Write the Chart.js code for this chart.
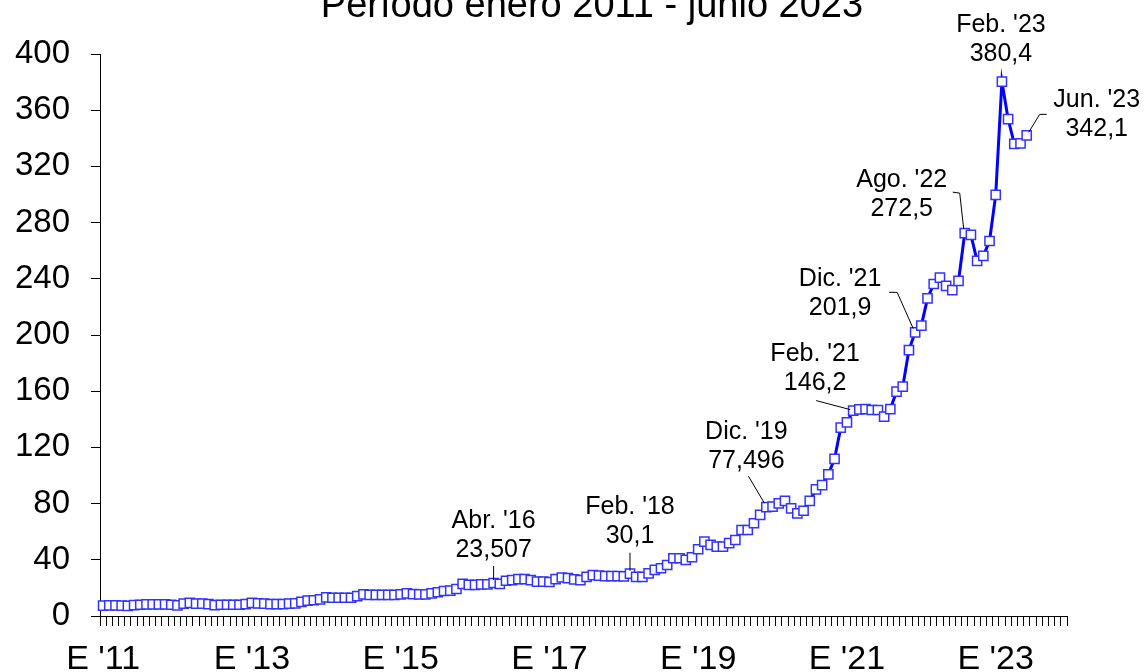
<!DOCTYPE html>
<html>
<head>
<meta charset="utf-8">
<script src="https://cdn.jsdelivr.net/npm/chart.js@4.4.1/dist/chart.umd.min.js"></script>
<style>
    body { margin: 0; background: #fff; }
    canvas { display: block; }
</style>
</head>
<body>
<canvas id="chart" width="1145" height="672"></canvas>
<script>
// Chart data
const titleText = 'Período enero 2011 - junio 2023';
const years = [2011, 2012, 2013, 2014, 2015, 2016, 2017, 2018, 2019, 2020, 2021, 2022, 2023];
const monthNames = ['ene', 'feb', 'mar', 'abr', 'may', 'jun', 'jul', 'ago', 'sep', 'oct', 'nov', 'dic'];
const xTickLabels = ["E '11", "E '13", "E '15", "E '17", "E '19", "E '21", "E '23"];
const yTicks = [0, 40, 80, 120, 160, 200, 240, 280, 320, 360, 400];

// monthly values, enero 2011 - junio 2023
const values = [
    7.4, 7.6, 7.6, 7.4, 7.2, 7.8, 8.0, 8.3, 8.3, 8.3, 8.3, 8.0,
    7.6, 8.8, 9.3, 8.8, 8.8, 8.5, 7.8, 8.0, 8.0, 8.0, 8.0, 8.5,
    9.3, 9.0, 8.8, 8.5, 8.5, 8.5, 8.8, 9.0, 10.0, 10.9, 11.2, 11.9,
    13.3, 13.0, 13.0, 13.0, 13.0, 14.2, 15.4, 15.0, 15.0, 15.0, 15.0, 15.0,
    15.4, 16.1, 15.6, 15.4, 15.4, 16.1, 16.9, 17.8, 18.0, 19.2, 22.8, 22.1,
    22.1, 22.5, 22.5, 23.507, 22.8, 25.1, 25.6, 26.3, 26.3, 25.6, 24.4, 24.4,
    24.2, 26.3, 27.4, 27.0, 26.1, 25.6, 27.9, 29.1, 28.7, 28.4, 28.4, 28.4,
    28.2, 30.1, 27.9, 27.9, 30.4, 32.8, 34.0, 36.3, 41.1, 41.1, 39.9, 41.8,
    47.5, 53.0, 50.6, 49.4, 49.4, 51.8, 54.1, 61.2, 61.2, 66.0, 72.0, 77.496,
    77.8, 80.1, 82.0, 76.6, 73.0, 74.9, 82.0, 90.1, 93.2, 100.8, 111.8, 134.1,
    137.8, 146.2, 147.1, 147.3, 146.6, 146.6, 141.9, 147.3, 159.7, 163.2, 189.3, 201.9,
    206.7, 226.1, 236.3, 240.8, 234.9, 232.0, 238.5, 272.5, 271.2, 252.7, 256.3, 266.9,
    299.7, 380.4, 353.7, 336.0, 336.4, 342.1
];

// annotated points: index into values and label text
const noteIndex = [63, 85, 107, 121, 131, 139, 145, 149];
const noteText = [
    ["Abr. '16", '23,507'],
    ["Feb. '18", '30,1'],
    ["Dic. '19", '77,496'],
    ["Feb. '21", '146,2'],
    ["Dic. '21", '201,9'],
    ["Ago. '22", '272,5'],
    ["Feb. '23", '380,4'],
    ["Jun. '23", '342,1']
];

// label placement relative to the point (px)
const noteLayout = [
    { dx: 0,   dy: -62, leader: [[0, -17], [0, -3]] },
    { dx: 0,   dy: -67, leader: [[0, -21], [0, -3]] },
    { dx: -20, dy: -75, leader: [[-18, -31], [-2, -4]] },
    { dx: -38, dy: -56, leader: [[-37, -10], [-3, -1]] },
    { dx: -75, dy: -53, leader: [[-26, -40], [-18, -40], [-2, -4]] },
    { dx: -63, dy: -53, leader: [[-12, -41], [-5, -40], [-1, -4]] },
    { dx: -1,  dy: -56, leader: [] },
    { dx: 70,  dy: -35, leader: [[20, -21], [13, -21], [2, -3]] }
];

const FONT = 'Arial, "Liberation Sans", sans-serif';

const months = [];
years.forEach(y => monthNames.forEach(m => months.push(m + ' ' + y)));

// Title (cut at the top, as in the picture)
const titlePlugin = {
    id: 'titleText',
    afterDraw(chart) {
        const c = chart.ctx;
        c.save();
        c.font = '38px ' + FONT;
        c.fillStyle = '#000';
        c.textAlign = 'center';
        c.textBaseline = 'alphabetic';
        c.fillText(titleText, 592, 17);
        c.restore();
    }
};

// Point annotations with leader lines
const notesPlugin = {
    id: 'notes',
    afterDatasetsDraw(chart) {
        const c = chart.ctx;
        const xs = chart.scales.x;
        const ys = chart.scales.y;
        c.save();
        c.font = '25px ' + FONT;
        c.fillStyle = '#000';
        c.strokeStyle = '#000';
        c.lineWidth = 1;
        c.textAlign = 'center';
        c.textBaseline = 'middle';
        noteIndex.forEach((idx, n) => {
            const px = xs.getPixelForValue(idx);
            const py = ys.getPixelForValue(values[idx]);
            const lay = noteLayout[n];
            noteText[n].forEach((line, k) => {
                c.fillText(line, px + lay.dx, py + lay.dy + k * 29);
            });
            if (lay.leader.length) {
                c.beginPath();
                lay.leader.forEach((p, k) => {
                    if (k === 0) c.moveTo(px + p[0], py + p[1]);
                    else c.lineTo(px + p[0], py + p[1]);
                });
                c.stroke();
            }
        });
        c.restore();
    }
};

const ctx = document.getElementById('chart').getContext('2d');
new Chart(ctx, {
    type: 'line',
    data: {
        labels: months,
        datasets: [{
            data: values,
            borderColor: '#0000ff',
            borderWidth: 3,
            tension: 0,
            pointStyle: 'rect',
            pointRadius: 6.5,
            pointBorderWidth: 1.5,
            pointBorderColor: '#3333ff',
            pointBackgroundColor: '#ffffff'
        }]
    },
    options: {
        responsive: false,
        animation: false,
        layout: { padding: { top: 54, right: 78, left: 0, bottom: 0 } },
        plugins: {
            legend: { display: false },
            tooltip: { enabled: false }
        },
        scales: {
            x: {
                offset: true,
                grid: { offset: true, drawOnChartArea: false, tickLength: 10, color: '#000' },
                border: { color: '#000', width: 1 },
                ticks: {
                    autoSkip: false,
                    maxRotation: 0,
                    minRotation: 0,
                    padding: 13,
                    color: '#000',
                    font: { family: FONT, size: 34 },
                    callback: (val, i) => (i % 24 === 0 ? xTickLabels[i / 24] : '')
                },
                afterFit: s => { s.height = 56; }
            },
            y: {
                min: 0,
                max: 400,
                afterBuildTicks: s => { s.ticks = yTicks.map(v => ({ value: v })); },
                grid: { drawOnChartArea: false, tickLength: 9, color: '#000' },
                border: { color: '#000', width: 1 },
                ticks: {
                    padding: 21,
                    color: '#000',
                    font: { family: FONT, size: 33 }
                },
                afterFit: s => { s.width = 100; }
            }
        }
    },
    plugins: [titlePlugin, notesPlugin]
});
</script>
</body>
</html>
